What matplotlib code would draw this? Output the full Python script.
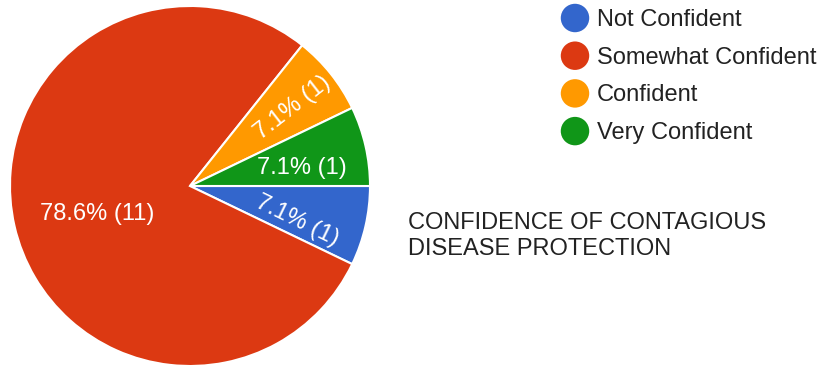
import matplotlib
matplotlib.use("Agg")
import matplotlib.pyplot as plt

categories = ["Not Confident", "Somewhat Confident", "Confident", "Very Confident"]
counts = [1, 11, 1, 1]
colors = ["#3366CC", "#DC3912", "#FF9900", "#109618"]
title = "CONFIDENCE OF CONTAGIOUS\nDISEASE PROTECTION"

plt.rcParams['font.family'] = ['Liberation Sans', 'DejaVu Sans']

W, H = 824, 367
fig = plt.figure(figsize=(W / 100, H / 100), dpi=100)
ax = fig.add_axes([0, 0, 1, 1])

cx, cy, r = 190, H - 186, 180
ax.pie(counts, colors=colors, startangle=0, counterclock=False,
       center=(cx, cy), radius=r, frame=True,
       wedgeprops=dict(edgecolor='white', linewidth=1.5))
ax.set_xlim(0, W)
ax.set_ylim(0, H)
ax.set_aspect('equal')
ax.axis('off')

total = sum(counts)
labels = ["%.1f%% (%d)" % (100.0 * c / total, c) for c in counts]
# label positions (pixel offsets from the centre) and rotations
offsets = [(107, -35), (-93, -28), (103, 78), (112, 18)]
rotations = [-26, 0, 38, 0]
for lab, (dx, dy), rot in zip(labels, offsets, rotations):
    ax.text(cx + dx, cy + dy, lab, color='white', fontsize=17,
            ha='center', va='center', rotation=rot, rotation_mode='anchor')

# legend
for i, (cat, col) in enumerate(zip(categories, colors)):
    y = H - (18 + i * 37.7)
    ax.scatter([575], [y], s=420, color=col, edgecolors='none')
    ax.text(597, y - 2, cat, fontsize=17, color='#222222', ha='left', va='center')

ax.text(408, H - 236, title, fontsize=17, color='#222222', ha='left',
        va='center', linespacing=1.25)

fig.savefig('out.png', dpi=100)
